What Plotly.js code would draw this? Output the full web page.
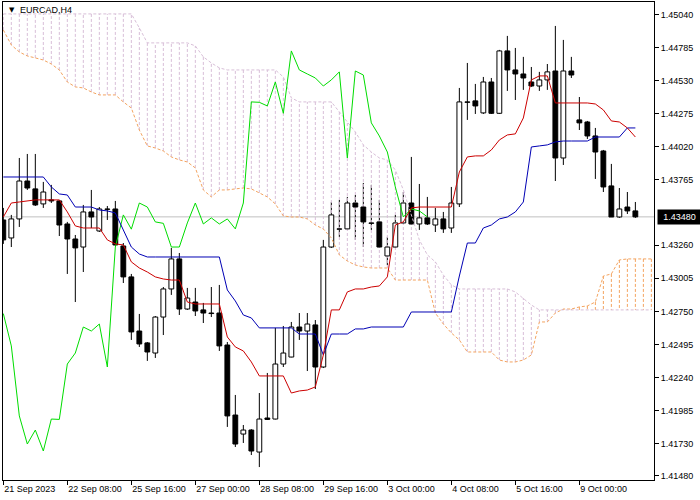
<!DOCTYPE html>
<html><head><meta charset="utf-8">
<script src="https://cdn.plot.ly/plotly-3.0.1.min.js"></script>
<style>html,body{margin:0;padding:0;background:#fff}#chart{width:700px;height:500px}</style>
</head><body><div id="chart"></div>
<script>
// ---- data (EURCAD, H4) ----
const tickBars = [0, 8, 16, 24, 32, 40, 48, 56, 64, 72];
const tickLabels = ['21 Sep 2023', '22 Sep 08:00', '25 Sep 16:00', '27 Sep 00:00', '28 Sep 08:00',
  '29 Sep 16:00', '3 Oct 00:00', '4 Oct 08:00', '5 Oct 16:00', '9 Oct 00:00'];
const priceTicks = [1.45040, 1.44785, 1.44530, 1.44275, 1.44020, 1.43765, 1.43260, 1.43005,
  1.42750, 1.42495, 1.42240, 1.41985, 1.41730, 1.41480];
const lastPrice = 1.43480;

const open = [1.43456,1.43317,1.43464,1.43757,1.43696,1.43580,1.43611,1.43603,1.43425,1.43309,
  1.43247,1.43518,1.43371,1.43541,1.43541,1.43255,1.43016,1.42598,1.42506,1.42428,
  1.42706,1.42923,1.43155,1.42768,1.42822,1.42761,1.42737,1.42737,1.42490,1.41949,
  1.41802,1.41833,1.41663,1.41926,1.41918,1.42343,1.42397,1.42629,1.42598,1.42645,
  1.42320,1.43247,1.43387,1.43387,1.43587,1.43556,1.43433,1.43441,1.43178,1.43247,
  1.43433,1.43587,1.43425,1.43472,1.43417,1.43464,1.43394,1.43580,1.44368,1.44376,
  1.44283,1.44522,1.44280,1.44762,1.44615,1.44584,1.44522,1.44491,1.44538,1.44607,
  1.43935,1.44607,1.44229,1.44213,1.44105,1.43989,1.43719,1.43479,1.43556,1.43526];
const high = [1.43549,1.43495,1.43935,1.43966,1.43966,1.43750,1.43727,1.43611,1.43441,1.43340,
  1.43572,1.43688,1.43556,1.43564,1.43603,1.43278,1.43039,1.42730,1.42513,1.42714,
  1.42938,1.43240,1.43201,1.42931,1.42931,1.42815,1.42938,1.42954,1.42513,1.42104,
  1.41872,1.41840,1.42119,1.42274,1.42622,1.42637,1.42668,1.42737,1.42737,1.42683,
  1.43302,1.43595,1.43611,1.43634,1.43649,1.43742,1.43727,1.43611,1.43325,1.43495,
  1.43672,1.43943,1.43734,1.43634,1.43549,1.43518,1.43711,1.44476,1.44669,1.44507,
  1.44561,1.44553,1.44770,1.44878,1.44785,1.44716,1.44638,1.44600,1.44661,1.44955,
  1.44847,1.44716,1.44406,1.44221,1.44167,1.43997,1.43889,1.43703,1.43672,1.43595];
const low = [1.43271,1.43247,1.43402,1.43688,1.43564,1.43549,1.43587,1.43332,1.43039,1.42822,
  1.43054,1.43394,1.43363,1.43456,1.43255,1.42969,1.42529,1.42475,1.42367,1.42390,
  1.42567,1.42877,1.42722,1.42761,1.42714,1.42660,1.42706,1.42444,1.41857,1.41702,
  1.41733,1.41640,1.41547,1.41911,1.41915,1.42320,1.42395,1.42529,1.42289,1.42150,
  1.42312,1.43240,1.43325,1.43385,1.43302,1.43247,1.43379,1.43240,1.43108,1.43240,
  1.43425,1.43417,1.43379,1.43417,1.43363,1.43356,1.43356,1.43556,1.44229,1.44275,
  1.44275,1.44275,1.44275,1.44453,1.44383,1.44461,1.44484,1.44453,1.44461,1.43757,
  1.43881,1.44553,1.44151,1.44082,1.43773,1.43672,1.43479,1.43472,1.43502,1.43472];
const close = [1.43302,1.43464,1.43757,1.43703,1.43572,1.43672,1.43603,1.43417,1.43309,1.43240,
  1.43518,1.43479,1.43541,1.43538,1.43263,1.43016,1.42591,1.42498,1.42436,1.42706,
  1.42923,1.43155,1.42768,1.42853,1.42753,1.42737,1.42733,1.42483,1.41942,1.41725,
  1.41833,1.41671,1.41918,1.41915,1.42343,1.42428,1.42629,1.42598,1.42652,1.42320,
  1.43247,1.43495,1.43385,1.43587,1.43556,1.43441,1.43430,1.43247,1.43247,1.43433,
  1.43587,1.43425,1.43472,1.43425,1.43464,1.43387,1.43587,1.44368,1.44365,1.44337,
  1.44522,1.44280,1.44762,1.44615,1.44584,1.44553,1.44491,1.44538,1.44600,1.43935,
  1.44607,1.44576,1.44206,1.44105,1.43981,1.43711,1.43479,1.43541,1.43526,1.43480];

// Tenkan-sen (red)
const tenkan = [1.43479,1.43587,1.43595,1.43603,1.43611,1.43611,1.43611,1.43611,1.43518,1.43410,
  1.43394,1.43394,1.43394,1.43302,1.43271,1.43263,1.43132,1.43085,1.43054,1.43016,
  1.43000,1.42992,1.42992,1.42822,1.42807,1.42807,1.42807,1.42807,1.42552,1.42475,
  1.42444,1.42359,1.42251,1.42251,1.42251,1.42251,1.42119,1.42135,1.42142,1.42166,
  1.42413,1.42761,1.42761,1.42900,1.42923,1.42923,1.42938,1.42946,1.43016,1.43417,
  1.43441,1.43549,1.43556,1.43556,1.43556,1.43556,1.43556,1.43827,1.43943,1.43951,
  1.43951,1.43997,1.44074,1.44113,1.44121,1.44244,1.44538,1.44569,1.44569,1.44360,
  1.44360,1.44360,1.44360,1.44360,1.44352,1.44306,1.44221,1.44213,1.44167,1.44097];
// Kijun-sen (blue)
const kijun = [1.43788,1.43788,1.43788,1.43788,1.43788,1.43788,1.43711,1.43657,1.43649,1.43556,
  1.43556,1.43556,1.43533,1.43526,1.43510,1.43379,1.43247,1.43193,1.43170,1.43170,
  1.43170,1.43170,1.43170,1.43170,1.43170,1.43170,1.43170,1.43170,1.42915,1.42830,
  1.42722,1.42699,1.42622,1.42622,1.42622,1.42622,1.42622,1.42575,1.42575,1.42575,
  1.42413,1.42575,1.42575,1.42575,1.42614,1.42614,1.42629,1.42629,1.42629,1.42629,
  1.42629,1.42745,1.42745,1.42745,1.42745,1.42745,1.42745,1.43023,1.43278,1.43278,
  1.43394,1.43417,1.43464,1.43479,1.43518,1.43595,1.44020,1.44028,1.44036,1.44059,
  1.44066,1.44066,1.44066,1.44066,1.44097,1.44097,1.44097,1.44097,1.44167,1.44167];
// Chikou span (lime), drawn 26 bars back
const chikou = [1.42733,1.42483,1.41942,1.41725,1.41833,1.41671,1.41918,1.41915,1.42343,1.42428,
  1.42629,1.42598,1.42652,1.42320,1.43247,1.43495,1.43385,1.43587,1.43556,1.43441,
  1.43430,1.43247,1.43247,1.43433,1.43587,1.43425,1.43472,1.43425,1.43464,1.43387,
  1.43587,1.44368,1.44365,1.44337,1.44522,1.44280,1.44762,1.44615,1.44584,1.44553,
  1.44491,1.44538,1.44600,1.43935,1.44607,1.44576,1.44206,1.44105,1.43981,1.43711,
  1.43479,1.43541,1.43526,1.43480];
// Senkou span A (sandy brown) and B (thistle), drawn 26 bars ahead
const spanA = [1.44924,1.44808,1.44754,1.44723,1.44708,1.44692,1.44661,1.44615,1.44522,1.44484,
  1.44476,1.44445,1.44422,1.44422,1.44422,1.44368,1.44321,1.44151,1.44028,1.44012,
  1.43989,1.43943,1.43920,1.43904,1.43858,1.43688,1.43634,1.43688,1.43688,1.43696,
  1.43703,1.43696,1.43665,1.43634,1.43580,1.43487,1.43479,1.43479,1.43464,1.43417,
  1.43386,1.43317,1.43186,1.43139,1.43108,1.43093,1.43085,1.43085,1.43085,1.42992,
  1.42992,1.42992,1.42992,1.42992,1.42737,1.42652,1.42583,1.42529,1.42436,1.42436,
  1.42436,1.42436,1.42374,1.42359,1.42359,1.42374,1.42413,1.42668,1.42668,1.42737,
  1.42768,1.42768,1.42784,1.42792,1.42822,1.43023,1.43039,1.43147,1.43155,1.43155,
  1.43155,1.43155];
const spanB = [1.45048,1.45048,1.45048,1.45048,1.45048,1.45048,1.45048,1.45048,1.45048,1.45048,
  1.45048,1.45048,1.45048,1.45048,1.45048,1.45048,1.45048,1.44940,1.44824,1.44824,
  1.44824,1.44824,1.44824,1.44824,1.44801,1.44716,1.44669,1.44631,1.44615,1.44615,
  1.44615,1.44615,1.44615,1.44615,1.44615,1.44561,1.44399,1.44368,1.44368,1.44368,
  1.44368,1.44368,1.44291,1.44213,1.44136,1.44036,1.43981,1.43935,1.43920,1.43842,
  1.43688,1.43495,1.43302,1.43186,1.43132,1.43031,1.42954,1.42923,1.42923,1.42923,
  1.42923,1.42923,1.42923,1.42923,1.42900,1.42853,1.42799,1.42761,1.42761,1.42761,
  1.42761,1.42761,1.42761,1.42761,1.42761,1.42761,1.42761,1.42761,1.42761,1.42761,
  1.42761,1.42761];

// ---- build traces ----
const bars = open.map((_, i) => i);
const xr = [-0.04, 81.33];
const yr = [1.41447, 1.45140];

const wx = [], wy = [];
bars.forEach(i => { wx.push(i, i, null); wy.push(low[i], high[i], null); });

const hb = {x: [], y: []}, ha = {x: [], y: []};
spanA.forEach((a, i) => {
  const t = a >= spanB[i] ? ha : hb;
  t.x.push(i, i, null); t.y.push(a, spanB[i], null);
});

const bodyBase = bars.map(i => Math.min(open[i], close[i]));
const bodyLen = bars.map(i => Math.max(Math.abs(close[i] - open[i]), 0.000004));
const bodyCol = bars.map(i => close[i] > open[i] ? '#ffffff' : '#000000');

const dot = '3px,2px';
const traces = [
  {type: 'scatter', mode: 'lines', x: wx, y: wy, line: {color: '#000', width: 1}, hoverinfo: 'skip'},
  {type: 'scatter', mode: 'lines', x: hb.x, y: hb.y, line: {color: '#D8BFD8', width: 1, dash: dot}, hoverinfo: 'skip'},
  {type: 'scatter', mode: 'lines', x: ha.x, y: ha.y, line: {color: '#F4A460', width: 1, dash: dot}, hoverinfo: 'skip'},
  {type: 'bar', x: bars, y: bodyLen, base: bodyBase, width: 0.6, xaxis: 'x2', yaxis: 'y2',
    marker: {color: bodyCol, line: {color: '#000', width: 1}}, hoverinfo: 'skip'},
  {type: 'scatter', mode: 'lines', x: spanA.map((_, i) => i), y: spanA, xaxis: 'x2', yaxis: 'y2',
    line: {color: '#F4A460', width: 1, dash: dot}},
  {type: 'scatter', mode: 'lines', x: spanB.map((_, i) => i), y: spanB, xaxis: 'x2', yaxis: 'y2',
    line: {color: '#D8BFD8', width: 1, dash: dot}},
  {type: 'scatter', mode: 'lines', x: chikou.map((_, i) => i), y: chikou, xaxis: 'x2', yaxis: 'y2',
    line: {color: '#00dd00', width: 1}},
  {type: 'scatter', mode: 'lines', x: bars, y: kijun, xaxis: 'x2', yaxis: 'y2',
    line: {color: '#0000b4', width: 1}},
  {type: 'scatter', mode: 'lines', x: bars, y: tenkan, xaxis: 'x2', yaxis: 'y2',
    line: {color: '#cc0000', width: 1}}
];

const font = 'Liberation Sans, Arial, sans-serif';
const layout = {
  width: 700, height: 500,
  margin: {l: 3, r: 46, t: 2, b: 20, pad: 0},
  paper_bgcolor: '#ffffff', plot_bgcolor: '#ffffff',
  showlegend: false,
  bargap: 0,
  font: {family: font, size: 9, color: '#000'},
  xaxis: {range: xr, tickmode: 'array', tickvals: tickBars, ticktext: tickLabels,
    ticks: 'outside', ticklen: 4, tickcolor: '#000', tickwidth: 1,
    ticklabelposition: 'outside right',
    showgrid: false, zeroline: false, showline: true, linecolor: '#000', linewidth: 1, mirror: true,
    rangeslider: {visible: false}, fixedrange: true, tickfont: {family: font, size: 9, color: '#000'}},
  yaxis: {range: yr, side: 'right', tickmode: 'array', tickvals: priceTicks,
    ticktext: priceTicks.map(v => v.toFixed(5)),
    ticks: 'outside', ticklen: 4, tickcolor: '#000', tickwidth: 1,
    showgrid: false, zeroline: false, showline: true, linecolor: '#000', linewidth: 1, mirror: true,
    fixedrange: true, tickfont: {family: font, size: 9, color: '#000'}},
  xaxis2: {overlaying: 'x', range: xr, visible: false, fixedrange: true},
  yaxis2: {overlaying: 'y', range: yr, visible: false, fixedrange: true},
  shapes: [{type: 'line', xref: 'paper', x0: 0, x1: 1, yref: 'y', y0: lastPrice, y1: lastPrice,
    line: {color: '#c0c0c0', width: 1}, layer: 'below'}],
  annotations: [
    {xref: 'paper', yref: 'y', x: 1, y: lastPrice, xanchor: 'left', yanchor: 'middle', xshift: 3,
      text: lastPrice.toFixed(5), showarrow: false, bgcolor: '#000000', width: 41, height: 12,
      font: {family: font, size: 9, color: '#ffffff'}},
    {xref: 'paper', yref: 'paper', x: 0.006, y: 0.983, xanchor: 'left', yanchor: 'middle',
      text: '▼', showarrow: false, font: {family: 'DejaVu Sans', size: 7, color: '#000'}},
    {xref: 'paper', yref: 'paper', x: 0.023, y: 0.983, xanchor: 'left', yanchor: 'middle',
      text: 'EURCAD,H4', showarrow: false, font: {family: font, size: 9, color: '#000'}}
  ]
};

Plotly.newPlot('chart', traces, layout, {displayModeBar: false, staticPlot: true});
</script>
</body></html>
